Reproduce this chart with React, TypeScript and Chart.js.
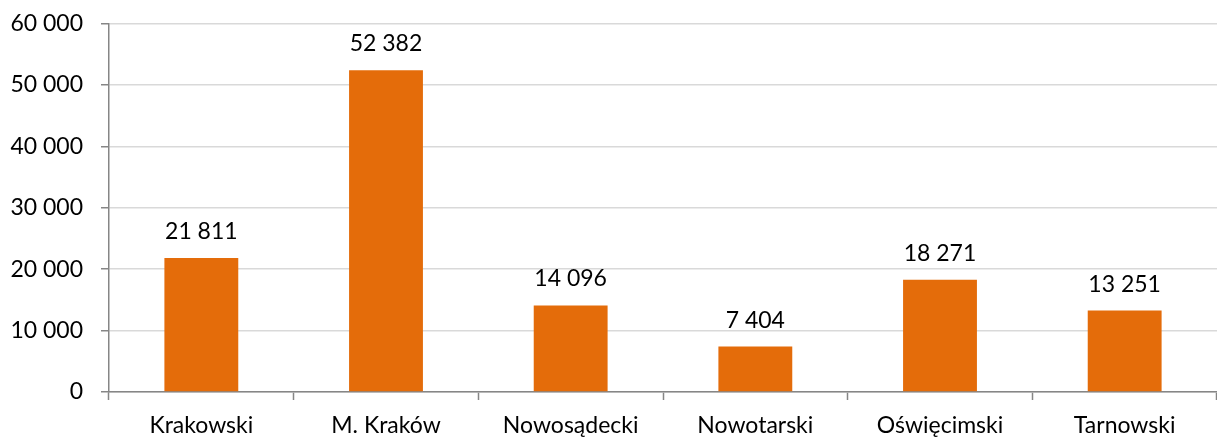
import React, { useEffect, useRef } from "react";
import { Chart, registerables } from "chart.js";

Chart.register(...registerables);

const categories = ["Krakowski", "M. Kraków", "Nowosądecki", "Nowotarski", "Oświęcimski", "Tarnowski"];
const values = [21811, 52382, 14096, 7404, 18271, 13251];
const yTicks = [0, 10000, 20000, 30000, 40000, 50000, 60000];

const fmt = (v: number) => String(v).replace(/\B(?=(\d{3})+(?!\d))/g, " ");

const FONT = "Lato";
const FS = 23;

const labelPlugin = {
  id: "barLabels",
  afterDatasetsDraw(chart: any) {
    const ctx = chart.ctx;
    const meta = chart.getDatasetMeta(0);
    ctx.save();
    ctx.font = `${FS}px ${FONT}`;
    ctx.fillStyle = "#000";
    ctx.textAlign = "center";
    ctx.textBaseline = "alphabetic";
    meta.data.forEach((bar: any, i: number) => {
      ctx.fillText(fmt(values[i]), bar.x, bar.y - 19);
    });
    ctx.restore();
  },
};

export default function App() {
  const ref = useRef<HTMLCanvasElement>(null);
  useEffect(() => {
    if (!ref.current) return;
    const chart = new Chart(ref.current, {
      type: "bar",
      data: {
        labels: categories,
        datasets: [
          {
            data: values,
            backgroundColor: "#E46C0A",
            borderWidth: 0,
            categoryPercentage: 0.8,
            barPercentage: 0.5,
          },
        ],
      },
      options: {
        responsive: false,
        animation: false,
        maintainAspectRatio: false,
        layout: { padding: { top: 23.5, right: 0, left: 0, bottom: 0 } },
        plugins: { legend: { display: false }, tooltip: { enabled: false } },
        scales: {
          x: {
            grid: {
              offset: true,
              drawOnChartArea: false,
              drawTicks: true,
              tickLength: 8,
              tickColor: "#868686",
              tickWidth: 1.5,
            },
            border: { color: "#868686", width: 1.5 },
            ticks: {
              color: "#000",
              font: { family: FONT, size: FS },
              padding: 12,
              maxRotation: 0,
              autoSkip: false,
            },
            afterFit: (s: any) => {
              s.height = 47;
              s.paddingLeft = 0;
              s.paddingRight = 0;
            },
          },
          y: {
            min: 0,
            max: 60000,
            afterBuildTicks: (s: any) => {
              s.ticks = yTicks.map((v) => ({ value: v }));
            },
            grid: {
              color: "#D9D9D9",
              lineWidth: 1.5,
              tickLength: 8,
              tickColor: "#868686",
              tickWidth: 1.5,
            },
            border: { color: "#868686", width: 1.5 },
            ticks: {
              color: "#000",
              font: { family: FONT, size: FS },
              padding: 18,
              callback: (v: any) => fmt(Number(v)),
            },
            afterFit: (s: any) => {
              s.width = 109;
              s.paddingTop = 0;
              s.paddingBottom = 0;
            },
          },
        },
      },
      plugins: [labelPlugin],
    });
    return () => chart.destroy();
  }, []);
  return (
    <div style={{ position: "fixed", left: 0, top: 0, width: 1217, height: 439, background: "#fff" }}>
      <canvas ref={ref} width={1217} height={439} style={{ width: 1217, height: 439 }} />
    </div>
  );
}
